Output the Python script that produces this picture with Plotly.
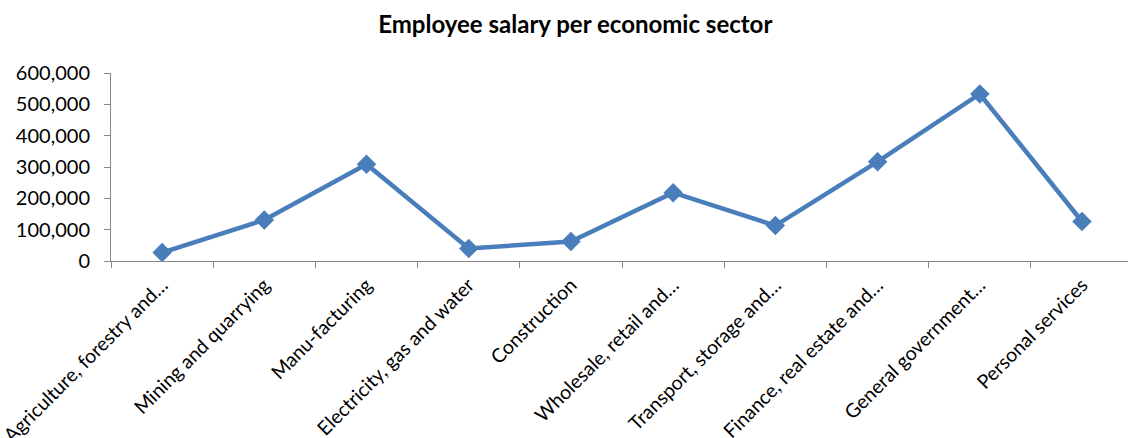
import plotly.graph_objects as go

categories = [
    "Agriculture, forestry and…",
    "Mining and quarrying",
    "Manu-facturing",
    "Electricity, gas and water",
    "Construction",
    "Wholesale, retail and…",
    "Transport, storage and…",
    "Finance, real estate and…",
    "General government…",
    "Personal services",
]
salary = [27000, 131000, 309000, 40000, 62000, 218000, 113000, 317000, 533000, 126000]
y_ticks = [0, 100000, 200000, 300000, 400000, 500000, 600000]

FONT = "Lato, Carlito, Calibri, sans-serif"
BLUE = "#4A7EBB"
AXIS = "#868686"

fig = go.Figure(
    go.Scatter(
        x=categories,
        y=salary,
        mode="lines+markers",
        line=dict(color=BLUE, width=4.5),
        marker=dict(symbol="diamond", size=15, color=BLUE),
        showlegend=False,
    )
)

fig.update_layout(
    width=1128,
    height=438,
    margin=dict(l=111, r=0, t=73, b=177),
    paper_bgcolor="white",
    plot_bgcolor="white",
    font=dict(family=FONT, color="black"),
    title=dict(
        text="<b>Employee salary per economic sector</b>",
        font=dict(family=FONT, size=24, color="black"),
        x=0.51,
        xref="container",
        xanchor="center",
        y=1 - 25 / 438,
        yref="container",
        yanchor="middle",
    ),
)

fig.update_xaxes(
    type="category",
    range=[-0.5, 9.45],
    automargin=False,
    showline=True,
    linecolor=AXIS,
    linewidth=1,
    ticks="outside",
    tickson="boundaries",
    ticklen=6,
    tickcolor=AXIS,
    tickangle=-45,
    tickfont=dict(family=FONT, size=19.5, color="black"),
    ticklabelstandoff=4,
    showgrid=False,
    zeroline=False,
)

fig.update_yaxes(
    range=[0, 600000],
    tickvals=y_ticks,
    tickformat=",d",
    automargin=False,
    showline=True,
    linecolor=AXIS,
    linewidth=1,
    ticks="outside",
    ticklen=6,
    tickcolor=AXIS,
    tickfont=dict(family=FONT, size=20, color="black"),
    ticklabelstandoff=10,
    showgrid=False,
    zeroline=False,
)

fig.write_html("out.html")
